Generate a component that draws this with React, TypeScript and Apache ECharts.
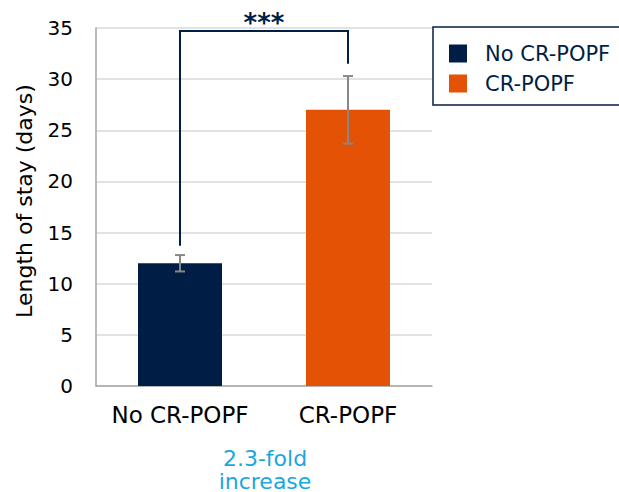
import React, { useEffect, useRef } from "react";
import * as echarts from "echarts";

const categories = ["No CR-POPF", "CR-POPF"];
const means = [12, 27];
const errLow = [11.2, 23.7];
const errHigh = [12.8, 30.3];
const barColors = ["#001e45", "#e35205"];
const yTicks = [0, 35, 5];
const bracket = [
  [0, 13.7],
  [0, 34.7],
  [1, 34.7],
  [1, 31.5],
];
const sigLabel = "***";
const yName = "Length of stay (days)";
const noteLines = ["2.3-fold", "increase"];

const FONT = "DejaVu Sans";

export default function App() {
  const ref = useRef<HTMLDivElement>(null);
  useEffect(() => {
    const chart = echarts.init(ref.current!, null, { renderer: "svg" });
    chart.setOption({
      animation: false,
      textStyle: { fontFamily: FONT },
      grid: { left: 96, right: 187, top: 28, bottom: 106 },
      legend: {
        show: true,
        left: 433,
        top: 27,
        orient: "vertical",
        itemWidth: 18,
        itemHeight: 18,
        itemGap: 9,
        padding: [16, 60, 11, 16],
        borderColor: "#001e45",
        borderWidth: 1.5,
        icon: "rect",
        textStyle: { fontSize: 21, color: "#001e45", fontFamily: FONT, padding: [0, 0, 0, 13] },
        data: categories.map((c, i) => ({ name: c, itemStyle: { color: barColors[i] } })),
      },
      xAxis: {
        type: "category",
        data: categories,
        axisLine: { lineStyle: { color: "#a6a6a6", width: 1.5 } },
        axisTick: { show: false },
        axisLabel: { interval: 0, fontSize: 23, color: "#000", margin: 17, fontFamily: FONT },
      },
      yAxis: {
        type: "value",
        min: yTicks[0],
        max: yTicks[1],
        interval: yTicks[2],
        axisLine: { show: true, lineStyle: { color: "#a6a6a6", width: 1.5 } },
        axisTick: { show: false },
        axisLabel: { fontSize: 20, color: "#000", margin: 23, fontFamily: FONT },
        splitLine: { lineStyle: { color: "#d9d9d9", width: 1.5 } },
      },
      series: [
        ...categories.map((c, i) => ({
          name: c,
          type: "bar",
          stack: "s",
          barWidth: "50%",
          itemStyle: { color: barColors[i] },
          data: categories.map((_, j) => (j === i ? means[j] : null)),
        })),
        {
          type: "custom",
          name: "err",
          z: 5,
          data: categories.map((_, i) => [i, errLow[i], errHigh[i]]),
          renderItem: (params: any, api: any) => {
            const x = api.value(0);
            const lo = api.coord([x, api.value(1)]);
            const hi = api.coord([x, api.value(2)]);
            const hw = 5;
            const style = { stroke: "#878787", lineWidth: 2 };
            return {
              type: "group",
              children: [
                { type: "line", shape: { x1: lo[0], y1: lo[1], x2: hi[0], y2: hi[1] }, style },
                { type: "line", shape: { x1: lo[0] - hw, y1: lo[1], x2: lo[0] + hw, y2: lo[1] }, style },
                { type: "line", shape: { x1: hi[0] - hw, y1: hi[1], x2: hi[0] + hw, y2: hi[1] }, style },
              ],
            };
          },
        },
        {
          type: "custom",
          name: "bracket",
          z: 6,
          data: [0],
          renderItem: (params: any, api: any) => {
            const pts = bracket.map((p) => api.coord(p));
            const mid = [(pts[1][0] + pts[2][0]) / 2, pts[1][1]];
            return {
              type: "group",
              children: [
                {
                  type: "polyline",
                  shape: { points: pts },
                  style: { stroke: "#001e45", lineWidth: 2, fill: "none" },
                },
                {
                  type: "text",
                  x: mid[0],
                  y: mid[1] - 8,
                  style: {
                    text: sigLabel,
                    fontSize: 26,
                    fontWeight: "bold",
                    fill: "#001e45",
                    align: "center",
                    verticalAlign: "middle",
                    fontFamily: FONT,
                  },
                },
              ],
            };
          },
        },
      ],
      graphic: [
        {
          type: "text",
          x: 24,
          y: 201,
          rotation: Math.PI / 2,
          style: {
            text: yName,
            fontSize: 22,
            fill: "#000",
            align: "center",
            verticalAlign: "middle",
            fontFamily: FONT,
          },
        },
        {
          type: "text",
          x: 265,
          y: 458,
          style: {
            text: noteLines[0],
            fontSize: 22,
            fill: "#1aa7e0",
            align: "center",
            verticalAlign: "middle",
            fontFamily: FONT,
          },
        },
        {
          type: "text",
          x: 265,
          y: 481,
          style: {
            text: noteLines[1],
            fontSize: 22,
            fill: "#1aa7e0",
            align: "center",
            verticalAlign: "middle",
            fontFamily: FONT,
          },
        },
      ],
    });
    return () => chart.dispose();
  }, []);
  return (
    <div
      ref={ref}
      style={{ position: "absolute", left: 0, top: 0, width: 619, height: 492 }}
    />
  );
}
